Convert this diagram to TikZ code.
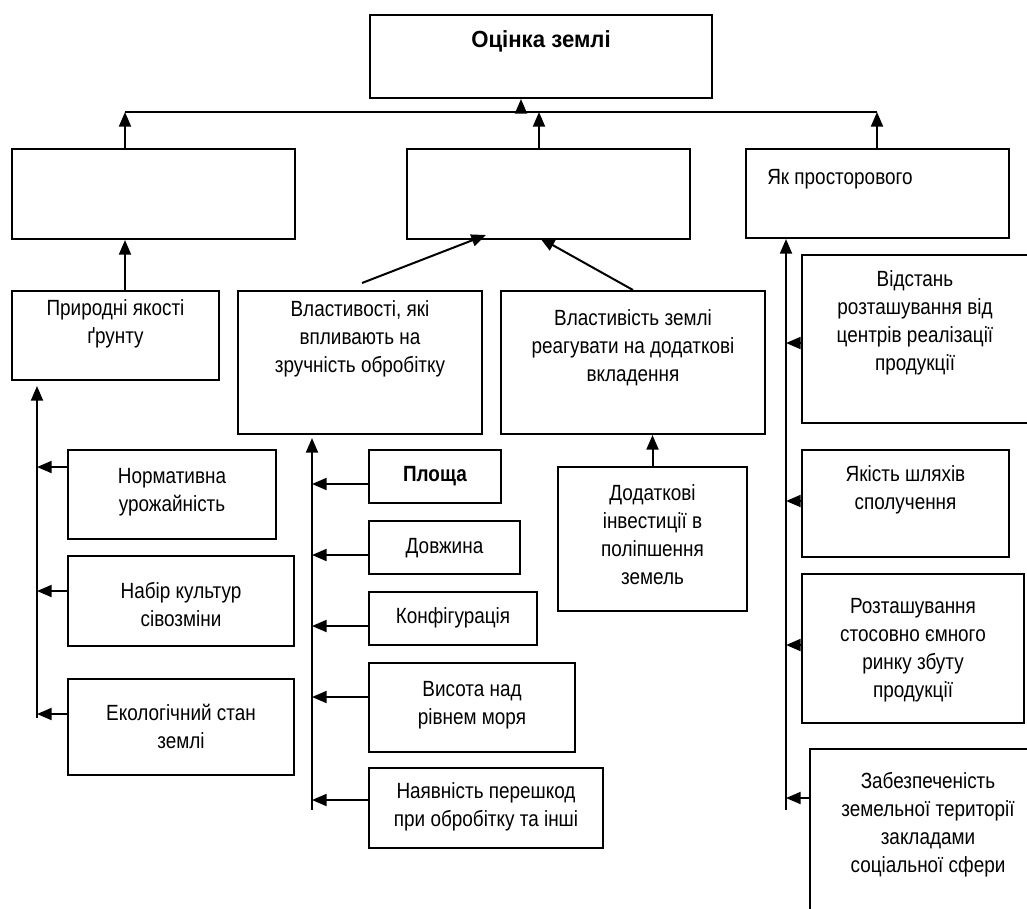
\documentclass[tikz,border=0pt]{standalone}
\usepackage{fontspec}
\setmainfont{Liberation Sans}[FakeStretch=0.86]
\newfontfamily\titlefont{Liberation Sans}[FakeStretch=0.95]
\usetikzlibrary{arrows.meta,calc,fit}
\newcommand\mkbox[7]{%
  \node[box, fit={(#2,#3)(#4,#5)}] (#1) {};
  \node[txt] (#1t) at ($(#1.north)+(0,#6)$) {\strut #7};}
\begin{document}
\begin{tikzpicture}[x=0.75pt,y=-0.75pt,
  box/.style={draw, line width=1.5pt, inner sep=0pt},
  txt/.style={anchor=north, align=center, inner sep=0pt, font=\fontsize{16.5}{21}\selectfont},
  arr/.style={line width=1.5pt, -{Triangle[length=11pt,width=9pt]}},
  ln/.style={line width=1.5pt}]
\useasboundingbox (0,0) rectangle (1027,908);
\fill[white] (0,0) rectangle (1027,908);
\clip (0,0) rectangle (1027,908);

% top
\mkbox{top}{370}{15}{712}{98}{14}{\titlefont\fontsize{17.5}{21}\selectfont\bfseries Оцінка землі}
% second row
\mkbox{L2}{12}{149}{295}{239}{0}{}
\mkbox{M2}{407}{149}{690}{239}{0}{}
\node[box, fit={(746,149)(1009,238)}] (R2) {};
\node[txt, anchor=base west] (R2t) at (767,184) {Як просторового};
% third row
\mkbox{Pr}{12}{291}{219}{380}{6}{Природні якості\\ґрунту}
\mkbox{Vl}{238}{291}{482}{434}{7}{Властивості, які\\впливають на\\зручність обробітку}
\mkbox{Vz}{501}{291}{765}{434}{16}{Властивість землі\\реагувати на додаткові\\вкладення}
% left column
\mkbox{Nu}{68}{450}{276}{539}{15}{Нормативна\\урожайність}
\mkbox{Nb}{68}{556}{294}{646}{24}{Набір культур\\сівозміни}
\mkbox{Ek}{68}{679}{294}{775}{23}{Екологічний стан\\землі}
% middle column
\mkbox{Pl}{369}{450}{501}{503}{13}{\textbf{Площа}}
\mkbox{Dv}{369}{521}{520}{574}{14}{Довжина}
\mkbox{Kf}{369}{592}{537}{645}{13}{Конфігурація}
\mkbox{Vs}{369}{663}{575}{752}{15}{Висота над\\рівнем моря}
\mkbox{Nv}{369}{768}{603}{848}{12}{Наявність перешкод\\при обробітку та інші}
\mkbox{Di}{558}{467}{747}{611}{15}{Додаткові\\інвестиції в\\поліпшення\\земель}
% right column
\mkbox{Vd}{802}{255}{1028}{423}{13}{Відстань\\розташування від\\центрів реалізації\\продукції}
\mkbox{Ys}{802}{450}{1009}{557}{13}{Якість шляхів\\сполучення}
\mkbox{Rz}{802}{574}{1024}{723}{21}{Розташування\\стосовно ємного\\ринку збуту\\продукції}
\mkbox{Zb}{810}{749}{1046}{935}{21}{Забезпеченість\\земельної території\\закладами\\соціальної сфери}

% bus
\coordinate (bL) at (125,112);
\coordinate (bR) at (877,112);
\coordinate (bT) at (521,112);
\coordinate (bM) at (539,112);
\draw[ln] (bL) -- (bR);
\draw[arr] (bT) -- (bT |- top.south);
\draw[arr] (bL |- L2.north) -- (bL);
\draw[arr] (bM |- M2.north) -- (bM);
\draw[arr] (bR |- R2.north) -- (bR);
\draw[arr] (bL |- Pr.north) -- (bL |- L2.south);

% slanted
\coordinate (s1) at (362,283);
\coordinate (t1) at (486,235);
\coordinate (t2) at (540,238);
\draw[arr] (s1) -- (t1);
\draw[arr] (Vz.north) -- (t2);
\draw[arr] (Di.north) -- (Di.north |- Vz.south);

% left column
\coordinate (lv) at (37,718);
\draw[arr] (lv) -- ($(lv |- Pr.south)+(0,5)$);
\foreach \b/\d in {Nu/18, Nb/36, Ek/36}{
  \draw[arr] ($(\b.north west)+(0,\d)$) coordinate (tmp) -- (tmp -| lv);
}
% middle column
\coordinate (mv) at (312,810);
\draw[arr] (mv) -- ($(mv |- Vl.south)+(0,3)$);
\foreach \b/\d in {Pl/35, Dv/35, Kf/35, Vs/35, Nv/33}{
  \draw[arr] ($(\b.north west)+(0,\d)$) coordinate (tmp) -- (tmp -| mv);
}
% right column
\coordinate (rv) at (786,810);
\draw[arr] (rv) -- (rv |- R2.south);
\foreach \b/\d in {Vd/89, Ys/52, Rz/72, Zb/50}{
  \draw[arr] ($(\b.north west)+(0,\d)$) coordinate (tmp) -- (tmp -| rv);
}
\end{tikzpicture}
\end{document}
